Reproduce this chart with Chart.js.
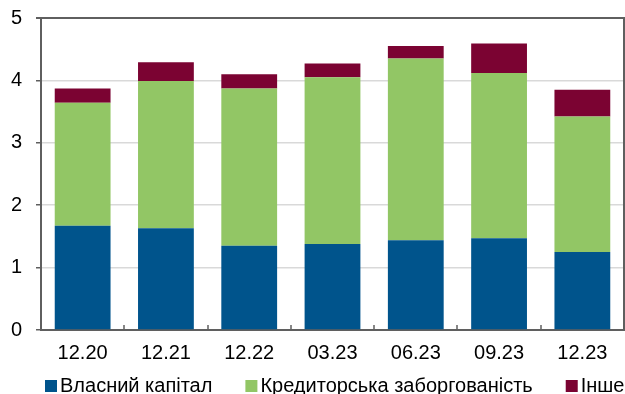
<!DOCTYPE html>
<html>
<head>
<meta charset="utf-8">
<script src="https://cdn.jsdelivr.net/npm/chart.js@4"></script>
<style>
  html, body { margin: 0; padding: 0; background: #fff; overflow: hidden; }
  #wrap { width: 625px; height: 394px; position: relative; }
</style>
</head>
<body>
<div id="wrap"><canvas id="chart"></canvas></div>
<script>
const categories = ['12.20', '12.21', '12.22', '03.23', '06.23', '09.23', '12.23'];
const equity = [1.67, 1.63, 1.35, 1.38, 1.44, 1.47, 1.25];
const payables = [1.97, 2.36, 2.52, 2.67, 2.91, 2.65, 2.17];
const other = [0.23, 0.30, 0.23, 0.22, 0.20, 0.47, 0.43];
const yTicks = [0, 1, 2, 3, 4, 5];

const FONT = '"Liberation Sans", Arial, sans-serif';
const axisColor = '#5f5f5f';

// frame (top/right), inner x ticks between categories, and the legend row
const extras = {
  id: 'extras',
  afterDraw(chart) {
    const { ctx, chartArea: a } = chart;
    const x = chart.scales.x;
    ctx.save();
    ctx.strokeStyle = axisColor;
    ctx.lineWidth = 2;
    ctx.beginPath();
    ctx.moveTo(a.left, a.top);
    ctx.lineTo(a.right, a.top);
    ctx.lineTo(a.right, a.bottom);
    ctx.stroke();

    ctx.lineWidth = 1.5;
    for (let i = 1; i < categories.length; i++) {
      const px = Math.round((x.getPixelForValue(i - 1) + x.getPixelForValue(i)) / 2);
      ctx.beginPath();
      ctx.moveTo(px, a.bottom);
      ctx.lineTo(px, a.bottom - 5);
      ctx.stroke();
    }

    // legend
    ctx.font = '20px ' + FONT;
    ctx.textBaseline = 'alphabetic';
    let lx = 45;
    chart.data.datasets.forEach(ds => {
      ctx.fillStyle = ds.backgroundColor;
      ctx.fillRect(lx, 380, 12, 12);
      ctx.fillStyle = '#000';
      ctx.fillText(ds.label, lx + 15, 392);
      lx += 15 + ctx.measureText(ds.label).width + 33;
    });
    ctx.restore();
  }
};

new Chart(document.getElementById('chart'), {
  type: 'bar',
  data: {
    labels: categories,
    datasets: [
      { label: 'Власний капітал', data: equity, backgroundColor: '#00548C' },
      { label: 'Кредиторська заборгованість', data: payables, backgroundColor: '#92C665' },
      { label: 'Інше', data: other, backgroundColor: '#7B0332' }
    ]
  },
  options: {
    responsive: true,
    maintainAspectRatio: false,
    animation: false,
    layout: { padding: { top: 18, right: 1, left: 0, bottom: 0 } },
    datasets: { bar: { categoryPercentage: 1, barPercentage: 0.67, borderWidth: 0 } },
    plugins: { legend: { display: false }, tooltip: { enabled: false } },
    scales: {
      x: {
        stacked: true,
        grid: { display: false, drawTicks: false },
        border: { color: axisColor, width: 2 },
        ticks: { color: '#000', font: { family: FONT, size: 20 }, padding: 11 },
        afterFit: s => { s.height = 64; s.paddingLeft = 0; s.paddingRight = 0; }
      },
      y: {
        stacked: true,
        min: 0,
        max: 5,
        afterBuildTicks: s => { s.ticks = yTicks.map(v => ({ value: v })); },
        grid: {
          color: c => (c.tick && c.tick.value === 5 ? axisColor : '#d9d9d9'),
          lineWidth: c => (c.tick && c.tick.value === 5 ? 2 : 1.5),
          tickColor: axisColor,
          tickLength: 5
        },
        border: { color: axisColor, width: 2 },
        ticks: { color: '#000', font: { family: FONT, size: 20 }, padding: 14 },
        afterFit: s => { s.width = 41; s.paddingTop = 0; s.paddingBottom = 0; }
      }
    }
  },
  plugins: [extras]
});
</script>
</body>
</html>
